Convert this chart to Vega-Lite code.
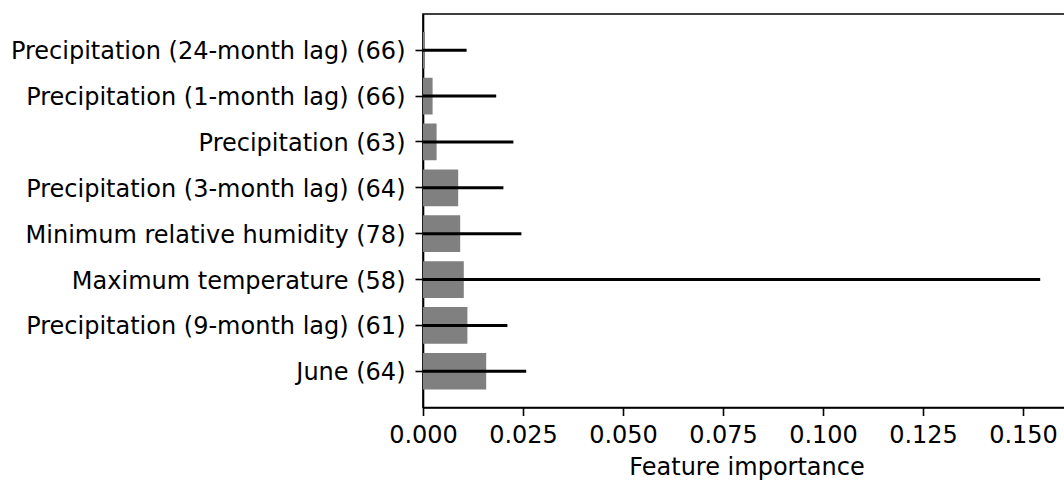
{
  "$schema": "https://vega.github.io/schema/vega-lite/v6.json",
  "autosize": {"type": "none"},
  "padding": {"left": 423, "top": 14, "right": 0, "bottom": 73},
  "width": 647,
  "height": 393.5,
  "background": "white",
  "config": {
    "font": "DejaVu Sans",
    "view": {"stroke": "black", "strokeWidth": 1.6},
    "axis": {
      "labelFont": "DejaVu Sans",
      "titleFont": "DejaVu Sans",
      "labelColor": "black",
      "titleColor": "black",
      "domainColor": "black",
      "tickColor": "black",
      "domainWidth": 1.6,
      "tickWidth": 1.6,
      "tickSize": 8,
      "grid": false,
      "labelFlush": false,
      "labelOverlap": false
    }
  },
  "data": {
    "values": [
      {"feature": "Precipitation (24-month lag) (66)", "importance": 0.0005, "lower": -0.0099, "upper": 0.0109},
      {"feature": "Precipitation (1-month lag) (66)", "importance": 0.0024, "lower": -0.0135, "upper": 0.0183},
      {"feature": "Precipitation (63)", "importance": 0.0034, "lower": -0.0158, "upper": 0.0226},
      {"feature": "Precipitation (3-month lag) (64)", "importance": 0.0088, "lower": -0.0025, "upper": 0.0201},
      {"feature": "Minimum relative humidity (78)", "importance": 0.0093, "lower": -0.006, "upper": 0.0246},
      {"feature": "Maximum temperature (58)", "importance": 0.0102, "lower": -0.1339, "upper": 0.1543},
      {"feature": "Precipitation (9-month lag) (61)", "importance": 0.0111, "lower": -0.0011, "upper": 0.0211},
      {"feature": "June (64)", "importance": 0.0158, "lower": -0.0018, "upper": 0.0258}
    ]
  },
  "encoding": {
    "y": {
      "field": "feature",
      "type": "nominal",
      "sort": null,
      "scale": {"paddingInner": 0.2, "paddingOuter": 0.39},
      "axis": {"title": null, "labelFontSize": 24, "labelLimit": 420, "labelPadding": 10, "labelOffset": 2}
    }
  },
  "layer": [
    {
      "mark": {"type": "bar", "color": "#808080", "clip": true},
      "encoding": {
        "x": {
          "field": "importance",
          "type": "quantitative",
          "scale": {"domain": [0, 0.16175], "nice": false, "zero": false},
          "axis": {
            "title": "Feature importance",
            "values": [0, 0.025, 0.05, 0.075, 0.1, 0.125, 0.15],
            "format": ".3f",
            "labelFontSize": 24,
            "labelPadding": 8,
            "titleFontSize": 24,
            "titleFontWeight": "normal",
            "titlePadding": 8
          }
        },
        "x2": {"datum": 0}
      }
    },
    {
      "mark": {"type": "rule", "color": "black", "strokeWidth": 3, "clip": true},
      "encoding": {
        "x": {"field": "lower", "type": "quantitative"},
        "x2": {"field": "upper"}
      }
    }
  ]
}
